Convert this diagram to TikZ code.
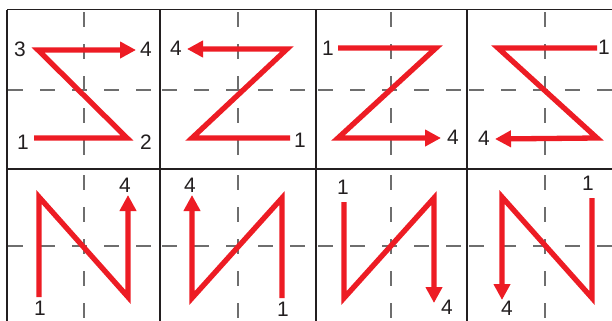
\documentclass[tikz,border=0pt]{standalone}
\usepackage{fontspec}
\setmainfont{Liberation Sans}
\usetikzlibrary{arrows.meta}
\definecolor{pathred}{HTML}{ED1C24}
\definecolor{inkgray}{HTML}{231F20}
\definecolor{guidegray}{HTML}{6E6E6E}
\tikzset{
  gridline/.style={draw=inkgray, line width=1.5bp},
  guide/.style={draw=guidegray, line width=1.2bp, dash pattern=on 15bp off 17bp},
  stroke/.style={draw=pathred, line width=5.3bp, line join=miter, miter limit=10},
  arrowstroke/.style={stroke, -{Triangle[length=16bp,width=16bp]}},
  num/.style={text=inkgray, font=\fontsize{21}{21}\selectfont, inner sep=0pt}
}
\begin{document}
\begin{tikzpicture}[x=1bp,y=-1bp]
\useasboundingbox (0,0) rectangle (612,320);
\clip (0,0) rectangle (612,320);
\fill[white] (0,0) rectangle (612,320);
% guides
\foreach \cx/\l/\r in {84/8/158, 238/162/314, 391/318/465, 545/469/612} {
  \draw[guide] (\l,90) -- (\r,90);
  \draw[guide] (\cx,12) -- (\cx,160);
  \draw[guide] (\l,246) -- (\r,246);
  \draw[guide] (\cx,175) -- (\cx,322);
}
% grid
\draw[gridline] (7,9.5) -- (612,9.5);
\draw[gridline] (7,169) -- (612,169);
\foreach \x in {7,160,316,467} \draw[gridline] (\x,9.5) -- (\x,322);
% top row
\coordinate (a1) at (34,138); \coordinate (a2) at (127,138); \coordinate (a3) at (38,50); \coordinate (a4) at (136,50);
\draw[arrowstroke] (a1) -- (a2) -- (a3) -- (a4);
\node[num] (la3) at (20,49) {3}; \node[num] (la4) at (146,49) {4};
\node[num] (la1) at (23,142) {1}; \node[num] (la2) at (146,142) {2};
\coordinate (b1) at (290,138); \coordinate (b2) at (192,138); \coordinate (b3) at (287,49); \coordinate (b4) at (187,49);
\draw[arrowstroke] (b1) -- (b2) -- (b3) -- (b4);
\node[num] (lb4) at (176,48) {4}; \node[num] (lb1) at (300,140) {1};
\coordinate (c1) at (338,48); \coordinate (c2) at (436,48); \coordinate (c3) at (338,138); \coordinate (c4) at (441,138);
\draw[arrowstroke] (c1) -- (c2) -- (c3) -- (c4);
\node[num] (lc1) at (328,48) {1}; \node[num] (lc4) at (453,137) {4};
\coordinate (d1) at (597,48); \coordinate (d2) at (498,48); \coordinate (d3) at (597,138); \coordinate (d4) at (495,139);
\draw[arrowstroke] (d1) -- (d2) -- (d3) -- (d4);
\node[num] (ld1) at (604,47) {1}; \node[num] (ld4) at (484,138) {4};
% bottom row
\coordinate (e1) at (39,297); \coordinate (e2) at (39,197); \coordinate (e3) at (128,297); \coordinate (e4) at (128,195);
\draw[arrowstroke] (e1) -- (e2) -- (e3) -- (e4);
\node[num] (le1) at (40,308) {1}; \node[num] (le4) at (125,185) {4};
\coordinate (f1) at (282,298); \coordinate (f2) at (282,198); \coordinate (f3) at (192,298); \coordinate (f4) at (192,195);
\draw[arrowstroke] (f1) -- (f2) -- (f3) -- (f4);
\node[num] (lf4) at (190,185) {4}; \node[num] (lf1) at (283,309) {1};
\coordinate (g1) at (344,202); \coordinate (g2) at (344,298); \coordinate (g3) at (434,198); \coordinate (g4) at (434,303);
\draw[arrowstroke] (g1) -- (g2) -- (g3) -- (g4);
\node[num] (lg1) at (343,187) {1}; \node[num] (lg4) at (447,307) {4};
\coordinate (h1) at (592,198); \coordinate (h2) at (592,298); \coordinate (h3) at (502,197); \coordinate (h4) at (502,300);
\draw[arrowstroke] (h1) -- (h2) -- (h3) -- (h4);
\node[num] (lh1) at (588,183) {1}; \node[num] (lh4) at (507,308) {4};
\end{tikzpicture}
\end{document}
